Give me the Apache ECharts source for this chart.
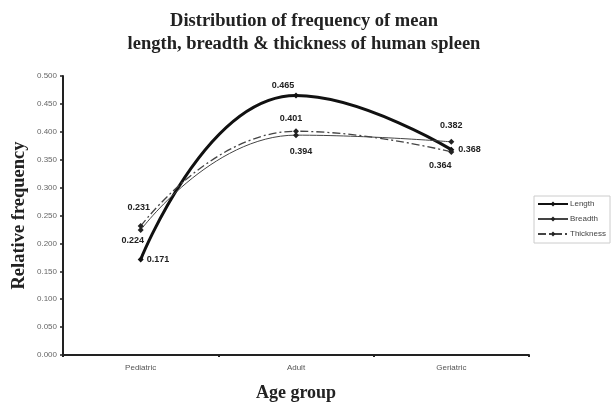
<!DOCTYPE html>
<html><head><meta charset="utf-8">
<script src="https://cdn.jsdelivr.net/npm/echarts@6/dist/echarts.min.js"></script>
<style>html,body{margin:0;padding:0;background:#fff}#c{width:615px;height:402px}</style>
</head><body><div id="c"></div>
<script>
var categories = ['Pediatric', 'Adult', 'Geriatric'];
var lengthValues = [0.171, 0.465, 0.368];
var breadthValues = [0.224, 0.394, 0.382];
var thicknessValues = [0.231, 0.401, 0.364];
var yTicks = [0, 0.05, 0.1, 0.15, 0.2, 0.25, 0.3, 0.35, 0.4, 0.45, 0.5];

var labelFont = {fontFamily: 'Liberation Sans, Arial', fontSize: 9, fontWeight: 'bold', color: '#222'};
function withLabels(vals, cfg) {
  return vals.map(function (v, i) {
    return {value: v, label: Object.assign({show: true, formatter: function (p) { return p.value.toFixed(3); }}, labelFont, cfg[i])};
  });
}

var chart = echarts.init(document.getElementById('c'));
chart.setOption({
  animation: false,
  title: {
    text: 'Distribution of frequency of mean\nlength, breadth & thickness of human spleen',
    left: 299, textAlign: 'center', top: 5,
    textStyle: {fontFamily: 'Liberation Serif, Times New Roman', fontWeight: 'bold', fontSize: 18.5, lineHeight: 23, color: '#222'}
  },
  grid: {left: 63, right: 86, top: 76, bottom: 47, outerBoundsMode: 'none', containLabel: false},
  legend: {
    orient: 'vertical', left: 534, top: 196,
    borderColor: '#ccc', borderWidth: 1, padding: [4, 4, 5, 3],
    itemWidth: 30, itemHeight: 6, itemGap: 7,
    textStyle: {fontFamily: 'Liberation Sans, Arial', fontSize: 8, color: '#444', padding: [0, 0, 0, -3]},
    data: ['Length', 'Breadth', 'Thickness']
  },
  xAxis: {
    type: 'category', data: categories, boundaryGap: true,
    name: 'Age group', nameLocation: 'middle', nameGap: 29, nameMoveOverlap: false,
    nameTextStyle: {fontFamily: 'Liberation Serif, Times New Roman', fontWeight: 'bold', fontSize: 18, color: '#222'},
    axisLine: {lineStyle: {color: '#222', width: 2}},
    axisTick: {show: true, length: 2, lineStyle: {color: '#222', width: 2}},
    axisLabel: {fontFamily: 'Liberation Sans, Arial', fontSize: 8, color: '#555', margin: 9}
  },
  yAxis: {
    type: 'value', min: 0, max: 0.5, interval: 0.05,
    name: 'Relative frequency', nameLocation: 'middle', nameGap: 34, nameMoveOverlap: false,
    nameTextStyle: {fontFamily: 'Liberation Serif, Times New Roman', fontWeight: 'bold', fontSize: 18.5, color: '#222'},
    axisLine: {show: true, lineStyle: {color: '#222', width: 2}},
    axisTick: {show: true, length: 3, lineStyle: {color: '#222', width: 1.5}},
    splitLine: {show: false},
    axisLabel: {fontFamily: 'Liberation Sans, Arial', fontSize: 8, color: '#666', margin: 6,
      formatter: function (v) { return v.toFixed(3); }}
  },
  series: [
    {
      name: 'Length', type: 'line', smooth: 0.5, symbol: 'diamond', symbolSize: 6,
      lineStyle: {color: '#111', width: 3}, itemStyle: {color: '#111'},
      data: withLabels(lengthValues, [
        {position: 'right', distance: 3},
        {position: 'top', offset: [-13, 2]},
        {position: 'right', distance: 4}
      ]), z: 3
    },
    {
      name: 'Breadth', type: 'line', smooth: 0.5, symbol: 'diamond', symbolSize: 6,
      lineStyle: {color: '#444', width: 1}, itemStyle: {color: '#222'},
      data: withLabels(breadthValues, [
        {position: 'bottom', offset: [-8, -2]},
        {position: 'bottom', offset: [5, 4]},
        {position: 'top', offset: [0, -4]}
      ])
    },
    {
      name: 'Thickness', type: 'line', smooth: 0.5, symbol: 'diamond', symbolSize: 6,
      lineStyle: {color: '#444', width: 1.3, type: [8, 3, 2, 3]}, itemStyle: {color: '#222'},
      data: withLabels(thicknessValues, [
        {position: 'top', offset: [-2, -6]},
        {position: 'top', offset: [-5, 0]},
        {position: 'bottom', offset: [-11, 1]}
      ])
    }
  ]
});
</script></body></html>
